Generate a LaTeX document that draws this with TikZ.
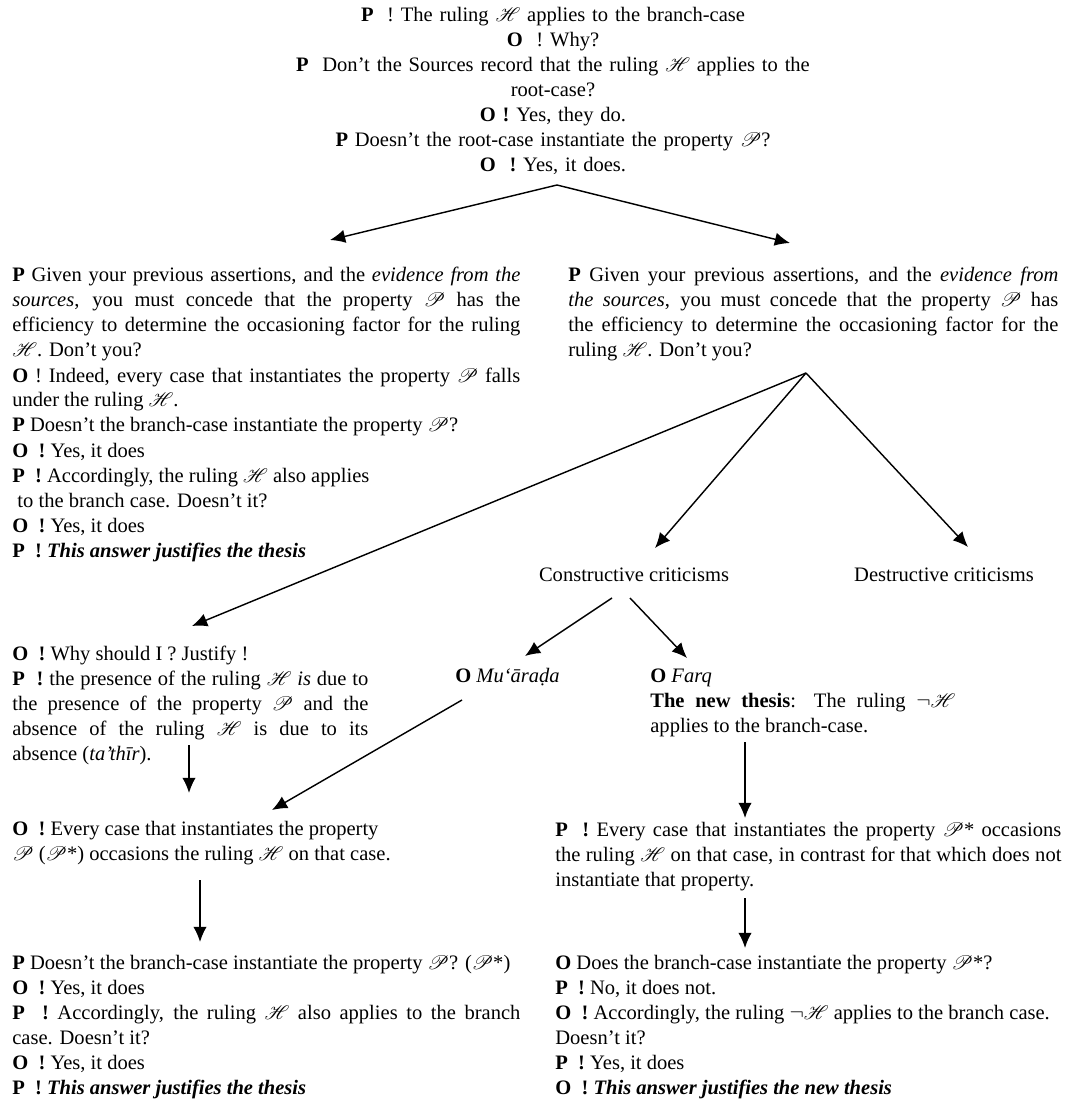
\documentclass[tikz,border=0pt]{standalone}
\usepackage{fontspec}
\setmainfont{Liberation Serif}
\usepackage{mathrsfs}
\usetikzlibrary{arrows.meta,positioning,calc}
\newcommand{\rulH}{{\fontsize{10.5}{10.5}\selectfont$\mathscr{H}$}}
\newcommand{\propP}{{\fontsize{10.5}{10.5}\selectfont$\mathscr{P}$}}

\begin{document}
\begin{tikzpicture}[
    x=0.56pt, y=-0.56pt,
    txt/.style={inner sep=0pt, align=justify, font=\fontsize{11.5}{14}\selectfont},
    mid/.style={inner sep=0pt, align=center, font=\fontsize{11.5}{14}\selectfont},
    arr/.style={-{Latex[length=8.5pt,width=7.5pt]}, line width=0.8pt}
]
\useasboundingbox (0,0) rectangle (1074,1111);

\node[mid, text width=336pt, anchor=base] (top) at (553,22) {\textbf{P}\ \ ! The ruling \rulH\ applies to the branch-case\\
  \textbf{O}\ \ ! Why?\\
  \textbf{P}\ \ Don't the Sources record that the ruling \rulH\ applies to the\\
  root-case?\\
  \textbf{O} \textbf{!} Yes, they do.\\
  \textbf{P} Doesn't the root-case instantiate the property \propP?\\
  \textbf{O}\ \ \textbf{!} Yes, it does.};

\node[txt, text width=284.5pt, anchor=base west] (lp1) at (12,282) {\textbf{P} Given your previous assertions, and the \textit{evidence from the}\linebreak
  \textit{sources}, you must concede that the property \propP\ has the\linebreak
  efficiency to determine the occasioning factor for the ruling\linebreak
  \rulH. Don't you?\par
  \textbf{O} ! Indeed, every case that instantiates the property \propP\ falls\linebreak
  under the ruling \rulH.\par
  \textbf{P} Doesn't the branch-case instantiate the property \propP?\par
  \textbf{O}\ \ \textbf{!} Yes, it does\par
  \textbf{P}\ \ \textbf{!} Accordingly, the ruling \rulH\ also applies\par
  \ to the branch case. Doesn't it?\par
  \textbf{O}\ \ \textbf{!} Yes, it does\par
  \textbf{P}\ \ \textbf{!} \textbf{\textit{This answer justifies the thesis}}};

\node[txt, text width=274.4pt, anchor=base west] (rp1) at (568,282) {\textbf{P} Given your previous assertions, and the \textit{evidence from}\linebreak
  \textit{the sources}, you must concede that the property \propP\ has\linebreak
  the efficiency to determine the occasioning factor for the\linebreak
  ruling \rulH. Don't you?};

\node[mid, anchor=base] (con) at (634,581) {Constructive criticisms};
\node[mid, anchor=base] (des) at (944,581) {Destructive criticisms};

\node[txt, text width=199.4pt, anchor=base west] (lp2) at (12,660) {\textbf{O}\ \ \textbf{!} Why should I ? Justify !\par
  \textbf{P}\ \ \textbf{!} the presence of the ruling \rulH\ \textit{is} due to\linebreak
  the presence of the property \propP\ and the\linebreak
  absence of the ruling \rulH\ is due to its\linebreak
  absence (\textit{ta'thīr}).};

\node[mid, anchor=base west] (mua) at (455,682) {\textbf{O} \textit{Mu‘āra\d{d}a}};

\node[txt, text width=170.8pt, anchor=base west] (farq) at (650,682) {\textbf{O} \textit{Farq}\par
  \textbf{The new thesis}: The ruling $\neg$\rulH\linebreak
  applies to the branch-case.};

\node[txt, text width=284.5pt, anchor=base west] (lp3) at (12,835) {\textbf{O}\ \ \textbf{!} Every case that instantiates the property\par
  \propP\ (\propP*) occasions the ruling \rulH\ on that case.};

\node[txt, text width=283.4pt, anchor=base west] (rp3) at (555,836) {\textbf{P}\ \ \textbf{!} Every case that instantiates the property \propP* occasions\linebreak
  the ruling \rulH\ on that case, in contrast for that which does not\linebreak
  instantiate that property.};

\node[txt, text width=284.5pt, anchor=base west] (lp4) at (12,969) {\textbf{P} Doesn't the branch-case instantiate the property \propP? (\propP*)\par
  \textbf{O}\ \ \textbf{!} Yes, it does\par
  \textbf{P}\ \ \textbf{!} Accordingly, the ruling \rulH\ also applies to the branch\linebreak
  case. Doesn't it?\par
  \textbf{O}\ \ \textbf{!} Yes, it does\par
  \textbf{P}\ \ \textbf{!} \textbf{\textit{This answer justifies the thesis}}};

\node[txt, text width=283.4pt, anchor=base west] (ro4) at (555,969) {\textbf{O} Does the branch-case instantiate the property \propP*?\par
  \textbf{P}\ \ \textbf{!} No, it does not.\par
  \textbf{O}\ \ \textbf{!} Accordingly, the ruling $\neg$\rulH\ applies to the branch case.\par
  Doesn't it?\par
  \textbf{P}\ \ \textbf{!} Yes, it does\par
  \textbf{O}\ \ \textbf{!} \textbf{\textit{This answer justifies the new thesis}}};

% fork points and arrow ends
\coordinate (topfork) at (557,185);
\coordinate (rpfork) at (806,373);
\coordinate (lp1in) at (330,240);
\coordinate (rp1in) at (790,243);
\coordinate (lp2in) at (192,626);
\coordinate (conin) at (655,548);
\coordinate (desin) at (968,547);
\coordinate (conl) at (612,598);
\coordinate (conr) at (630,598);
\coordinate (muain) at (525,656);
\coordinate (farqin) at (687,658);
\coordinate (muaout) at (462,700);
\coordinate (lp3in) at (272,810);
\coordinate (lp2out) at (189,745);
\coordinate (lp3top) at (189,793);
\coordinate (lp3out) at (200,880);
\coordinate (lp4in) at (200,942);
\coordinate (farqout) at (745,742);
\coordinate (rp3in) at (745,818);
\coordinate (rp3out) at (745,898);
\coordinate (ro4in) at (745,948);

\draw[arr] (topfork) -- (lp1in);
\draw[arr] (topfork) -- (rp1in);
\draw[arr] (rpfork) -- (lp2in);
\draw[arr] (rpfork) -- (conin);
\draw[arr] (rpfork) -- (desin);
\draw[arr] (conl) -- (muain);
\draw[arr] (conr) -- (farqin);
\draw[arr] (muaout) -- (lp3in);
\draw[arr] (lp2out) -- (lp3top);
\draw[arr] (lp3out) -- (lp4in);
\draw[arr] (farqout) -- (rp3in);
\draw[arr] (rp3out) -- (ro4in);
\end{tikzpicture}
\end{document}
